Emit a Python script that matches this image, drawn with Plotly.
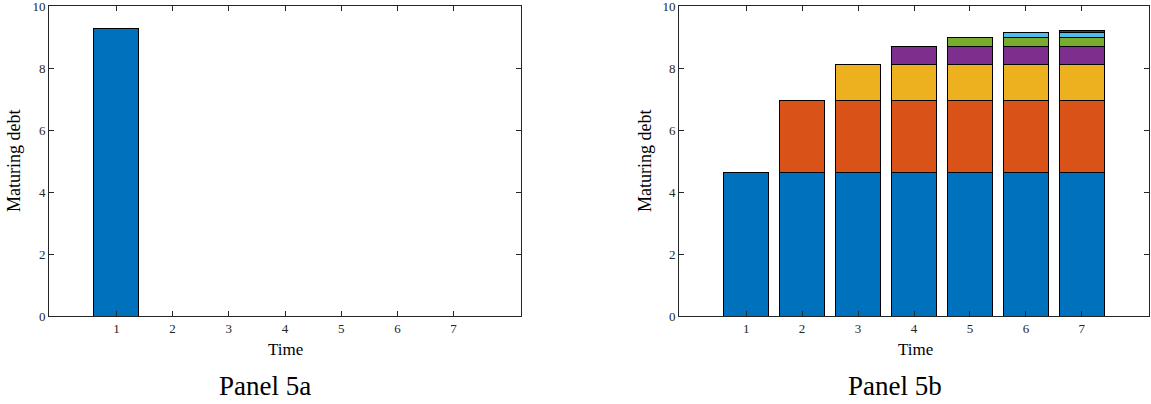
import plotly.graph_objects as go

time = [1, 2, 3, 4, 5, 6, 7]
panel_a = [9.27, 0, 0, 0, 0, 0, 0]

# Panel 5b stacked layers (layer k starts at time k)
layer1 = [4.64, 4.64, 4.64, 4.64, 4.64, 4.64, 4.64]
layer2 = [0, 2.32, 2.32, 2.32, 2.32, 2.32, 2.32]
layer3 = [0, 0, 1.16, 1.16, 1.16, 1.16, 1.16]
layer4 = [0, 0, 0, 0.58, 0.58, 0.58, 0.58]
layer5 = [0, 0, 0, 0, 0.29, 0.29, 0.29]
layer6 = [0, 0, 0, 0, 0, 0.145, 0.145]
layer7 = [0, 0, 0, 0, 0, 0, 0.07]
layers = [layer1, layer2, layer3, layer4, layer5, layer6, layer7]
colors = ["#0072BD", "#D95319", "#EDB120", "#7E2F8E", "#77AC30", "#4DBEEE", "#A2142F"]

yticks = [0, 2, 4, 6, 8, 10]
font = "Liberation Serif"
axc = "rgb(38,38,38)"

fig = go.Figure()
fig.add_trace(go.Bar(x=time, y=panel_a, width=0.8, marker=dict(color=colors[0], line=dict(color="black", width=1)),
                     xaxis="x", yaxis="y", showlegend=False))
for i, lay in enumerate(layers):
    xs = [t for t, v in zip(time, lay) if v > 0]
    ys = [v for v in lay if v > 0]
    fig.add_trace(go.Bar(x=xs, y=ys, width=0.8, marker=dict(color=colors[i], line=dict(color="black", width=1)),
                         xaxis="x2", yaxis="y2", showlegend=False))

W, H = 1151, 404
ydom = [1 - 316 / H, 1 - 6 / H]

def xax(domain, anchor):
    return dict(domain=domain, anchor=anchor, range=[-0.2, 8.2], tickvals=time, ticks="inside", ticklen=5,
                tickcolor=axc, showline=True, linecolor=axc, linewidth=1, mirror="ticks", showgrid=False,
                zeroline=False, automargin=False, ticklabeloverflow="allow",
                tickfont=dict(family=font, size=13, color=axc))

def yax(domain, anchor):
    return dict(domain=domain, anchor=anchor, range=[0, 10], tickvals=yticks, ticks="inside", ticklen=5,
                tickcolor=axc, showline=True, linecolor=axc, linewidth=1, mirror="ticks", showgrid=False,
                zeroline=False, automargin=False, ticklabeloverflow="allow",
                tickfont=dict(family=font, size=13, color=axc))

def txt(s, x, y, size, angle=0):
    return dict(text=s, x=x / W, y=1 - y / H, xref="paper", yref="paper", showarrow=False, textangle=angle,
                font=dict(family=font, size=size, color="black"), xanchor="center", yanchor="middle")

fig.update_layout(
    width=W, height=H, margin=dict(l=0, r=0, t=0, b=0),
    plot_bgcolor="white", paper_bgcolor="white", barmode="stack",
    xaxis=xax([49 / W, 521 / W], "y"), yaxis=yax(ydom, "x"),
    xaxis2=xax([679 / W, 1149 / W], "y2"), yaxis2=yax(ydom, "x2"),
    annotations=[
        txt("Time", 285, 349, 17), txt("Time", 915, 349, 17),
        txt("Maturing debt", 14, 161, 18, -90), txt("Maturing debt", 645, 161, 18, -90),
        txt("Panel 5a", 265, 386, 27), txt("Panel 5b", 895, 386, 27),
    ],
)
fig.write_html("out.html")
